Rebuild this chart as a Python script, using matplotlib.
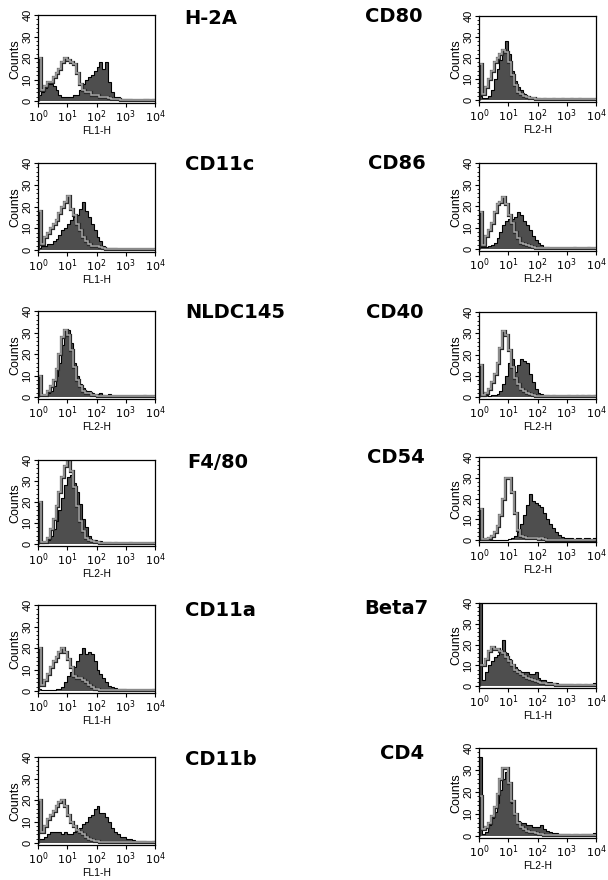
import numpy as np
import matplotlib
matplotlib.use('Agg')
import matplotlib.pyplot as plt
from matplotlib.ticker import LogLocator, MultipleLocator, NullFormatter

plt.rcParams['font.family'] = ['Liberation Sans', 'DejaVu Sans']

# counts per bin, 40 bins of 0.1 decade from 10^0 to 10^4
h2a_ctrl = [20, 5, 7, 9, 9, 11, 13, 15, 18, 20, 19, 18, 17, 13, 8, 5, 4, 4, 3, 3,
            3, 2, 2, 2, 1.5, 1, 1, 1, 0.5, 0.5, 0.3, 0.3, 0.3, 0.3, 0.3, 0.3, 0.3, 0.3, 0.3, 0.3]
h2a_stain = [3, 4, 6, 8, 8, 7, 5, 3, 2, 2, 2, 2, 3, 3, 5, 8, 10, 11, 12, 14,
             16, 18, 15, 18, 9, 4, 2, 2, 1, 1, 1, 1, 0.5, 0.5, 0.5, 0.5, 1, 1, 0.5, 1]

cd11c_ctrl = [18, 3, 6, 8, 10, 12, 14, 17, 20, 22, 25, 19, 16, 12, 9, 6, 4, 3, 2, 2,
              2, 1.5, 1, 0.5, 0.3, 0.3, 0.3, 0.3, 0.3, 0.3, 0.3, 0.3, 0.3, 0.3, 0.3, 0.3, 0.3, 0.3, 0.3, 0.3]
cd11c_stain = [1, 2, 2, 3, 3, 4, 5, 7, 9, 10, 12, 14, 15, 16, 19, 22, 18, 15, 12, 9,
               6, 4, 2, 1, 1, 1, 1, 0.5, 0.5, 0.5, 0.3, 0.3, 0.3, 0.3, 0.3, 0.3, 0.3, 0.3, 0.3, 0.3]

nldc_ctrl = [10, 1, 1, 3, 5, 8, 13, 20, 28, 31, 29, 22, 14, 8, 5, 3, 2, 2, 1, 1,
             0.5, 0.3, 0.3, 0.3, 0.3, 0.3, 0.3, 0.3, 0.3, 0.3, 0.3, 0.3, 0.3, 0.3, 0.3, 0.3, 0.3, 0.3, 0.3, 0.3]
nldc_stain = [2, 1, 1, 2, 3, 5, 10, 16, 24, 30, 31, 25, 16, 10, 6, 4, 3, 3, 2, 1,
              1, 2, 1, 0.5, 1.5, 0.5, 0.5, 0.5, 0.5, 0.5, 0.5, 0.5, 0.5, 0.5, 0.5, 0.5, 1, 0.5, 0.5, 0.5]

f480_ctrl = [20, 1, 1, 3, 7, 12, 18, 25, 32, 37, 40, 35, 27, 18, 11, 6, 3, 2, 1.5, 1,
             1, 0.5, 0.3, 0.3, 0.3, 0.3, 0.3, 0.3, 0.3, 0.3, 0.3, 0.3, 0.3, 0.3, 0.3, 0.3, 0.3, 0.3, 0.3, 0.3]
f480_stain = [1, 0.5, 1, 2, 4, 7, 11, 16, 22, 28, 32, 33, 29, 25, 19, 12, 8, 4, 2, 2,
              1.5, 1.5, 1, 1, 1, 0.5, 1, 0.5, 0.5, 0.5, 0.5, 1, 0.5, 0.5, 0.5, 0.5, 0.5, 0.5, 0.5, 0.5]

cd11a_ctrl = [20, 3, 5, 8, 11, 14, 16, 18, 20, 18, 15, 11, 7, 6, 6, 5, 4, 3, 2, 1,
              1, 0.5, 0.3, 0.3, 0.3, 0.3, 0.3, 0.3, 0.3, 0.3, 0.3, 0.3, 0.3, 0.3, 0.3, 0.3, 0.3, 0.3, 0.3, 0.3]
cd11a_stain = [1, 0.5, 0.5, 0.5, 0.5, 0.5, 1, 1, 2, 4, 7, 9, 11, 14, 17, 20, 17, 18, 17, 14,
               10, 8, 6, 4, 2.5, 2, 1.5, 1, 1, 1, 0.5, 0.5, 0.5, 0.5, 0.5, 0.5, 0.5, 0.5, 0.5, 1]

cd11b_ctrl = [20, 5, 8, 11, 13, 15, 17, 19, 20, 17, 13, 10, 8, 6, 5, 4, 3, 2, 1.5, 1,
              1, 0.5, 0.3, 0.3, 0.3, 0.3, 0.3, 0.3, 0.3, 0.3, 0.3, 0.3, 0.3, 0.3, 0.3, 0.3, 0.3, 0.3, 0.3, 0.3]
cd11b_stain = [2, 2, 3, 4, 5, 5, 5, 5, 4, 5, 4, 4, 5, 6, 7, 9, 10, 12, 13, 16,
               17, 14, 14, 12, 10, 7, 5, 4, 3, 3, 2, 2, 1.5, 1, 1, 1, 1, 0.5, 0.5, 1]

cd80_ctrl = [17, 3, 6, 10, 14, 18, 20, 22, 24, 23, 18, 12, 7, 4, 3, 2, 1.5, 1, 1, 0.5,
             0.3, 0.3, 0.3, 0.3, 0.3, 0.3, 0.3, 0.3, 0.3, 0.3, 0.3, 0.3, 0.3, 0.3, 0.3, 0.3, 0.3, 0.3, 0.3, 0.3]
cd80_stain = [2, 1, 1, 2, 5, 10, 15, 19, 23, 28, 22, 14, 9, 6, 5, 3, 2, 1.5, 1, 1,
              1, 0.5, 1, 0.5, 0.5, 1, 0.5, 0.5, 1, 0.5, 0.5, 1, 0.5, 0.5, 1, 0.5, 0.5, 0.5, 0.5, 0.5]

cd86_ctrl = [17, 2, 6, 9, 12, 17, 21, 22, 24, 21, 16, 12, 8, 5, 3, 2.5, 2, 1.5, 1, 0.5,
             0.3, 0.3, 0.3, 0.3, 0.3, 0.3, 0.3, 0.3, 0.3, 0.3, 0.3, 0.3, 0.3, 0.3, 0.3, 0.3, 0.3, 0.3, 0.3, 0.3]
cd86_stain = [1, 1, 1, 1.5, 2, 3, 5, 8, 11, 13, 14, 14, 15, 17, 16, 13, 11, 9, 6, 4,
              3, 2, 1, 1, 0.5, 0.5, 0.5, 0.5, 0.5, 0.5, 0.5, 0.5, 1, 0.5, 0.5, 0.5, 0.5, 1, 0.5, 0.5]

cd40_ctrl = [15, 1, 2, 4, 7, 11, 16, 23, 31, 29, 22, 14, 9, 6, 4, 3, 2, 1.5, 1, 0.5,
             0.3, 0.3, 0.3, 0.3, 0.3, 0.3, 0.3, 0.3, 0.3, 0.3, 0.3, 0.3, 0.3, 0.3, 0.3, 0.3, 0.3, 0.3, 0.3, 0.3]
cd40_stain = [1, 0.5, 1, 0.5, 1, 1, 1.5, 3, 6, 10, 16, 18, 12, 15, 18, 17, 16, 11, 7, 4,
              2, 1.5, 1, 1, 0.5, 1, 0.5, 0.5, 0.5, 0.5, 1, 0.5, 0.5, 1, 0.5, 1, 0.5, 1, 0.5, 1]

cd54_ctrl = [15, 0.5, 0.5, 1, 2, 4, 7, 12, 20, 30, 30, 23, 13, 5, 2, 1.5, 1, 1, 1, 1,
             0.5, 1, 0.5, 0.3, 0.3, 0.3, 0.3, 0.3, 0.3, 0.3, 0.3, 0.3, 0.3, 0.3, 0.3, 0.3, 0.3, 0.3, 0.3, 0.3]
cd54_stain = [0.3, 0.3, 0.3, 0.3, 0.3, 0.3, 0.3, 0.3, 0.3, 0.3, 0.5, 1, 2, 4, 8, 12, 17, 22, 19, 18,
              17, 16, 13, 10, 8, 6, 4, 2.5, 1.5, 1, 1, 1, 0.5, 1, 1, 0.5, 1, 1, 0.5, 1]

beta7_ctrl = [10, 10, 13, 17, 19, 18, 18, 17, 16, 14, 12, 10, 8, 7, 6, 5, 4, 3.5, 3, 2.5,
              2, 1.5, 1.5, 1, 1, 1, 0.5, 0.5, 0.5, 0.5, 0.5, 0.5, 0.5, 0.5, 0.5, 0.5, 0.5, 0.5, 0.5, 0.5]
beta7_stain = [45, 3, 7, 10, 12, 14, 15, 17, 22, 16, 13, 10, 9, 8, 7, 7, 7, 6, 6, 7,
               4, 3, 3, 2, 2, 1.5, 1.5, 1, 1, 1, 1, 1, 0.5, 1, 1, 0.5, 1, 0.5, 1, 1.5]

cd4_ctrl = [18, 3, 4, 6, 9, 13, 19, 26, 31, 31, 24, 16, 10, 6, 4, 3, 2.5, 2, 2, 1.5,
            1, 1, 0.5, 0.3, 0.3, 0.3, 0.3, 0.3, 0.3, 0.3, 0.3, 0.3, 0.3, 0.3, 0.3, 0.3, 0.3, 0.3, 0.3, 0.3]
cd4_stain = [36, 1, 2, 5, 8, 11, 15, 21, 26, 29, 24, 15, 10, 7, 6, 6, 5, 5, 4, 4,
             4, 5, 3, 2.5, 2, 1.5, 1.5, 1, 1, 1, 1, 0.5, 1, 1, 0.5, 1, 1, 1, 1, 1.5]

names = ['H-2A', 'CD11c', 'NLDC145', 'F4/80', 'CD11a', 'CD11b',
         'CD80', 'CD86', 'CD40', 'CD54', 'Beta7', 'CD4']
channels = ['FL1-H', 'FL1-H', 'FL2-H', 'FL2-H', 'FL1-H', 'FL1-H',
            'FL2-H', 'FL2-H', 'FL2-H', 'FL2-H', 'FL1-H', 'FL2-H']
controls = [h2a_ctrl, cd11c_ctrl, nldc_ctrl, f480_ctrl, cd11a_ctrl, cd11b_ctrl,
            cd80_ctrl, cd86_ctrl, cd40_ctrl, cd54_ctrl, beta7_ctrl, cd4_ctrl]
stained = [h2a_stain, cd11c_stain, nldc_stain, f480_stain, cd11a_stain, cd11b_stain,
           cd80_stain, cd86_stain, cd40_stain, cd54_stain, beta7_stain, cd4_stain]

edges = np.logspace(0, 4, 41)

# layout in pixels
W, H = 608, 880
tops = [15, 163, 311, 460, 605, 757, 16, 163, 312, 457, 603, 748]
zeros = [101, 250, 397, 544, 691, 843, 100, 249, 397, 540, 686, 836]
label_x = [184, 185, 185, 187, 185, 185, 394, 397, 395, 396, 396, 402]
label_y = [18, 165, 312, 462, 610, 759, 17, 163, 312, 457, 608, 753]

fig = plt.figure(figsize=(W / 100, H / 100), dpi=100)

for i in range(12):
    left = 38 if i < 6 else 479
    bot = zeros[i] + 2
    ax = fig.add_axes([left / W, 1 - bot / H, 117 / W, (bot - tops[i]) / H])
    ax.stairs(stained[i], edges, fill=True, color='#4e4e4e')
    ax.stairs(stained[i], edges, color='black', lw=0.8)
    ax.stairs(controls[i], edges, color='#2a2a2a', lw=2.3)
    ax.stairs(controls[i], edges, color='#a8a8a8', lw=1.1)

    ax.set_xscale('log')
    ax.set_xlim(1, 1e4)
    ax.set_ylim(-0.9, 40)
    ax.set_xticks([1, 10, 100, 1000, 10000])
    ax.set_xticklabels([r'$10^0$', r'$10^1$', r'$10^2$', r'$10^3$', r'$10^4$'])
    ax.xaxis.set_minor_locator(LogLocator(base=10, subs=range(2, 10)))
    ax.xaxis.set_minor_formatter(NullFormatter())
    ax.set_yticks([0, 10, 20, 30, 40])
    ax.yaxis.set_minor_locator(MultipleLocator(2))
    ax.tick_params(which='major', length=3, width=0.8, labelsize=8, pad=1)
    ax.tick_params(which='minor', length=1.5, width=0.6)
    ax.tick_params(axis='y', labelrotation=90)
    for lab in ax.get_yticklabels():
        lab.set_va('center')
    for s in ax.spines.values():
        s.set_linewidth(0.9)
    ax.set_xlabel(channels[i], fontsize=7.5, labelpad=0.5)
    ax.set_ylabel('Counts', fontsize=9, labelpad=0.5)

    ha = 'left' if i < 6 else 'center'
    fig.text(label_x[i] / W, 1 - label_y[i] / H, names[i], fontsize=14,
             family='DejaVu Sans', fontweight='bold', ha=ha, va='center')

fig.savefig('out.png', dpi=100)
